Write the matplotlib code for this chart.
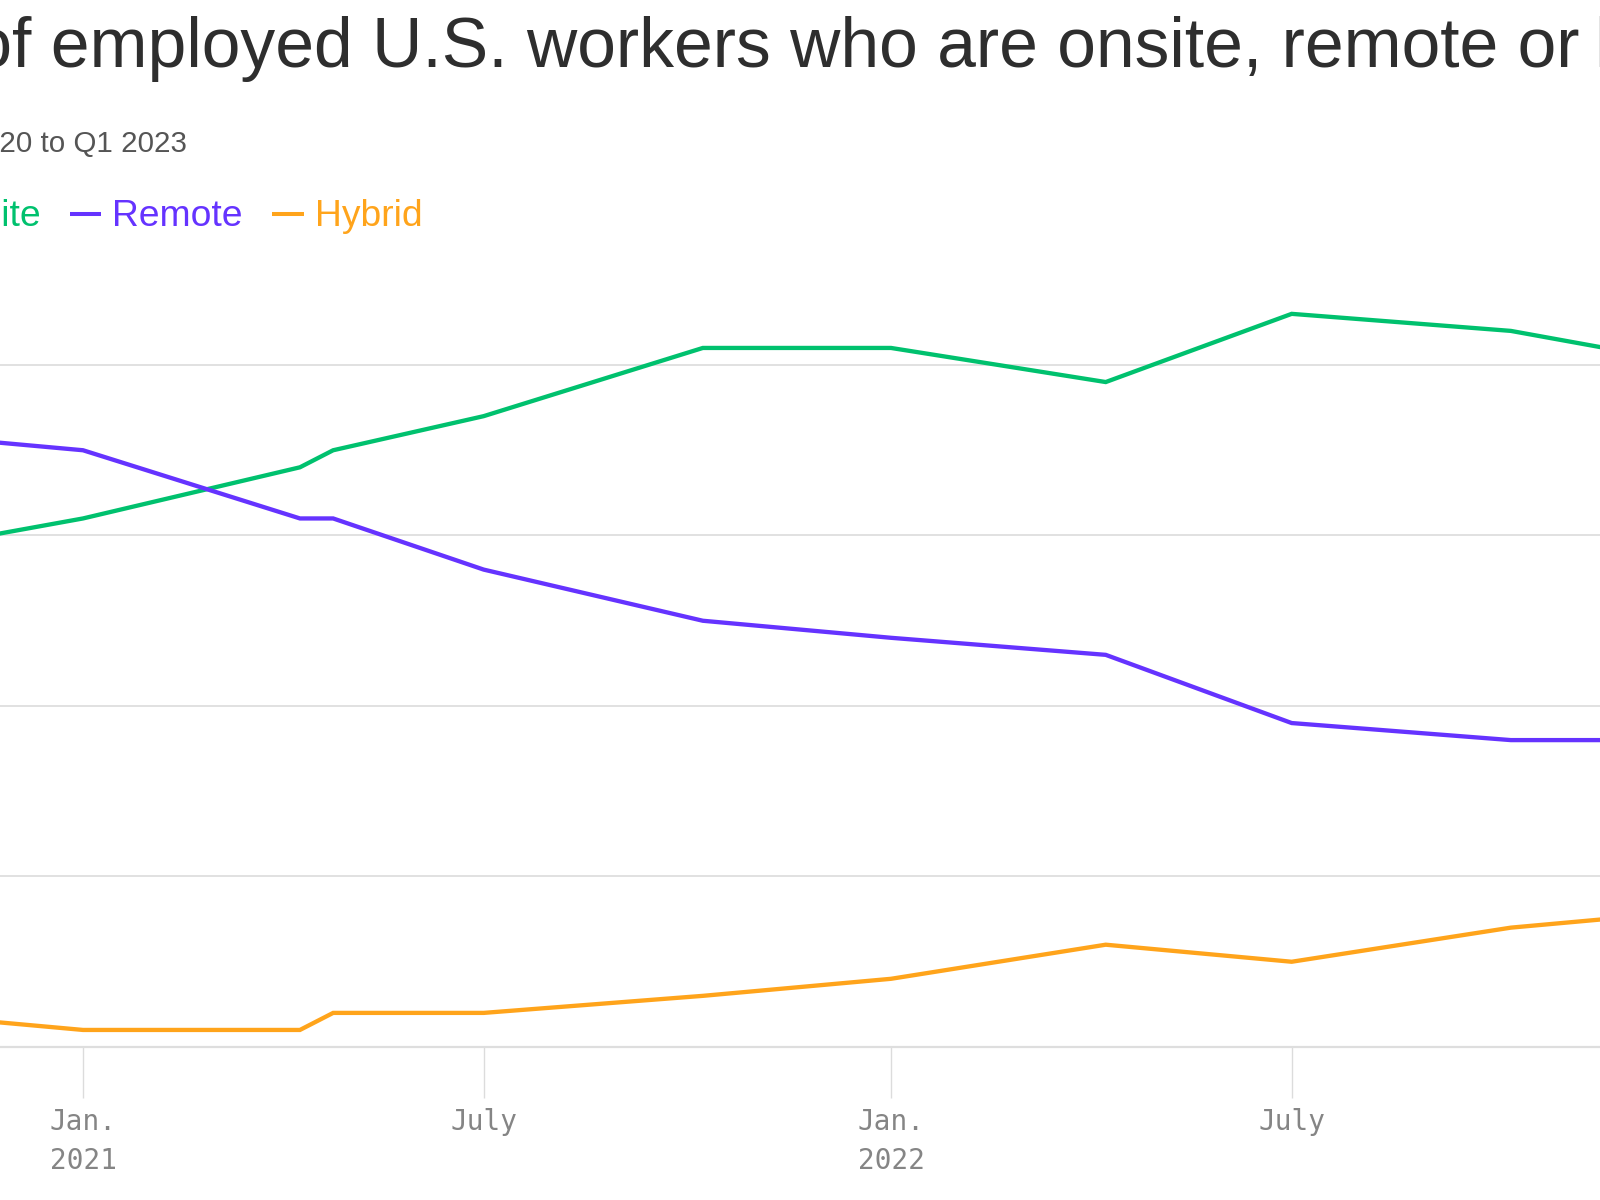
import matplotlib
matplotlib.use("Agg")
import matplotlib.pyplot as plt
import matplotlib.dates as mdates
from matplotlib.lines import Line2D
import numpy as np

# ---------------- data ----------------
dates = ["2020-10-08", "2021-01-01", "2021-04-09", "2021-04-24", "2021-07-01",
         "2021-10-08", "2022-01-01", "2022-04-08", "2022-07-01", "2022-10-08",
         "2023-01-01"]
onsite = [39, 41, 44, 45, 47, 51, 51, 49, 53, 52, 50]
remote = [46, 45, 41, 41, 38, 35, 34, 33, 29, 28, 28]
hybrid = [12, 11, 11, 12, 12, 13, 14, 16, 15, 17, 18]
series_names = ["Onsite", "Remote", "Hybrid"]
series_colors = ["#00c16e", "#6533ff", "#ffa41b"]
tick_dates = ["2021-01-01", "2021-07-01", "2022-01-01", "2022-07-01"]
tick_labels = ["Jan.\n2021", "July", "Jan.\n2022", "July"]
grid_values = [10, 20, 30, 40, 50]
title_lead = "Share of employed U.S. workers who are onsite, remote or"
title_tail = "hybrid"
subtitle = "Q4 2020 to Q1 2023"

# ---------------- layout ----------------
W, H = 1600, 1200
fig = plt.figure(figsize=(16, 12), dpi=100)
fig.patch.set_facecolor("white")


def fx(px):
    return px / W


def fy(py):
    return 1 - py / H


y_bottom_px = 1047.0
px_per_unit = 17.05
ymin, ymax = 10, 56
top_px = y_bottom_px - (ymax - ymin) * px_per_unit
ax = fig.add_axes([0, fy(y_bottom_px), 1, (y_bottom_px - top_px) / H])

xd = mdates.date2num(np.array(dates, dtype="datetime64[D]"))
xt = mdates.date2num(np.array(tick_dates, dtype="datetime64[D]"))
jan21 = mdates.date2num(np.datetime64("2021-01-01"))
jan22 = mdates.date2num(np.datetime64("2022-01-01"))
ppd = (891 - 83) / (jan22 - jan21)
ax.set_xlim(jan21 - 83 / ppd, jan22 + (W - 891) / ppd)
ax.set_ylim(ymin, ymax)

for vals, name, col in zip([onsite, remote, hybrid], series_names, series_colors):
    ax.plot(xd, vals, color=col, lw=3.1, solid_joinstyle="miter",
            solid_capstyle="butt", zorder=3, label=name)

ax.set_yticks(grid_values)
ax.yaxis.grid(True, color="#dedede", lw=1.3)
ax.set_axisbelow(True)
ax.tick_params(axis="y", length=0, labelleft=False)
for s in ["top", "left", "right"]:
    ax.spines[s].set_visible(False)
ax.spines["bottom"].set_color("#dedede")
ax.spines["bottom"].set_linewidth(1.6)

ax.set_xticks(xt)
ax.set_xticklabels(tick_labels, fontfamily="DejaVu Sans Mono", fontsize=20,
                   color="#858585", linespacing=1.5)
ax.tick_params(axis="x", length=37, width=1.0, color="#dcdcdc", pad=7)
ax.patch.set_alpha(0)

# ---------------- text ----------------
renderer = fig.canvas.get_renderer()


def text_width(s, **kw):
    t = fig.text(0, 0, s, **kw)
    w = t.get_window_extent(renderer=renderer).width
    t.remove()
    return w


tfam = "Liberation Sans"
# title
seg = "employed U.S. workers who are onsite, remote or"
ref = 40
tsize = ref * 1529 / text_width(seg, fontsize=ref, family=tfam)
off = (text_width("Share of employed", fontsize=tsize, family=tfam)
       - text_width("employed", fontsize=tsize, family=tfam))
fig.text(fx(51 - off), fy(67), title_lead, fontsize=tsize, family=tfam,
         color="#2e2e2e", ha="left", va="baseline")
# final word: starts just at the right edge, as in the reference
fig.text(fx(1594), fy(67), title_tail, fontsize=tsize, family=tfam,
         color="#2e2e2e", ha="left", va="baseline")

# subtitle
ssize = ref * 187 / text_width("20 to Q1 2023", fontsize=ref, family=tfam)
fig.text(fx(187), fy(152), subtitle, fontsize=ssize, family=tfam,
         color="#555555", ha="right", va="baseline")

# legend
lsize = ref * 130.7 / text_width("Remote", fontsize=ref, family=tfam)
leg_base = 226
dash_y = 214
fig.text(fx(41), fy(leg_base), series_names[0], fontsize=lsize, family=tfam,
         color=series_colors[0], ha="right", va="baseline")
w0 = text_width(series_names[0], fontsize=lsize, family=tfam)
d0_end = 41 - w0 - 11
dash_pos = [(d0_end - 32, d0_end), (69.5, 101.5), (271.5, 304)]
text_left = [None, 112, 315]
for i, (name, col) in enumerate(zip(series_names, series_colors)):
    x0, x1 = dash_pos[i]
    fig.add_artist(Line2D([fx(x0), fx(x1)], [fy(dash_y), fy(dash_y)],
                          transform=fig.transFigure, color=col, lw=2.9,
                          solid_capstyle="butt"))
    if text_left[i] is not None:
        fig.text(fx(text_left[i]), fy(leg_base), name, fontsize=lsize,
                 family=tfam, color=col, ha="left", va="baseline")

fig.savefig("out.png", dpi=100, facecolor="white")
